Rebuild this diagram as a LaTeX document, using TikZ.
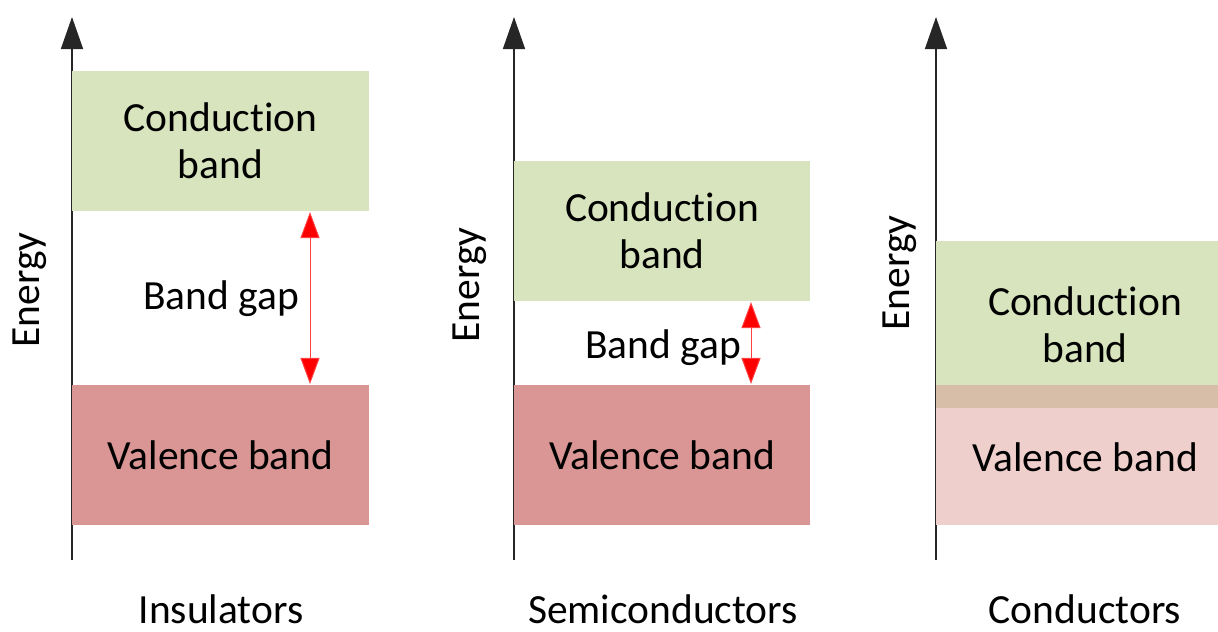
\documentclass[tikz,border=0pt]{standalone}
\usepackage{fontspec}
\setmainfont[Ligatures=NoCommon]{Carlito}
\usetikzlibrary{arrows.meta}
\definecolor{cbgreen}{HTML}{D7E4BD}
\definecolor{vbred}{HTML}{D99694}
\definecolor{vbpink}{HTML}{EFCFCC}
\definecolor{overlap}{HTML}{D7BEA8}
\definecolor{axisgray}{HTML}{262626}
\definecolor{gapred}{HTML}{FF0000}
\tikzset{
  band/.style={draw=none, inner sep=0pt, align=center, font=\fontsize{29.5}{33.4}\selectfont},
  lbl/.style={font=\fontsize{29.5}{34}\selectfont, inner sep=0pt},
  axis/.style={draw=axisgray, line width=1.1pt, -{Triangle[length=0.8cm, width=0.55cm]}},
  gap/.style={draw=gapred!75, line width=0.7pt, {Triangle[length=0.65cm, width=0.475cm, fill=gapred]}-{Triangle[length=0.65cm, width=0.475cm, fill=gapred]}}
}
\begin{document}
\begin{tikzpicture}[x=0.025cm, y=-0.025cm]
\useasboundingbox (0,0) rectangle (1218,632);

% energy axes
\coordinate (a1b) at (72,560);  \coordinate (a1t) at (72,17);
\coordinate (a2b) at (514,560); \coordinate (a2t) at (514,17);
\coordinate (a3b) at (936,560); \coordinate (a3t) at (936,17);
\draw[axis] (a1b) -- (a1t);
\draw[axis] (a2b) -- (a2t);
\draw[axis] (a3b) -- (a3t);

% insulators
\fill[cbgreen] (72,71) rectangle (369,211);
\node[band] (cb1) at (220.5,141) {Conduction\\band};
\fill[vbred] (72,385) rectangle (369,525);
\node[band] (vb1) at (220.5,455) {Valence band};
\coordinate (g1t) at (310,212);
\coordinate (g1b) at (310,384);
\draw[gap] (g1t) -- (g1b);
\node[lbl] (bg1) at (221,299) {Band gap};
\node[lbl, rotate=90] (en1) at (30,290) {Energy};
\node[lbl] (t1) at (221,609) {Insulators};

% semiconductors
\fill[cbgreen] (514,161) rectangle (810,301);
\node[band] (cb2) at (662,231) {Conduction\\band};
\fill[vbred] (514,385) rectangle (810,525);
\node[band] (vb2) at (662,455) {Valence band};
\coordinate (g2t) at (751,302);
\coordinate (g2b) at (751,384);
\draw[gap] (g2t) -- (g2b);
\node[lbl] (bg2) at (663,348) {Band gap};
\node[lbl, rotate=90] (en2) at (470,285) {Energy};
\node[lbl] (t2) at (663,609) {Semiconductors};

% conductors: overlapping bands
\fill[cbgreen] (936,241) rectangle (1218,385);
\fill[overlap] (936,385) rectangle (1218,408);
\fill[vbpink] (936,408) rectangle (1218,525);
\node[band] (cb3) at (1085,325) {Conduction\\band};
\node[band] (vb3) at (1085,457) {Valence band};
\node[lbl, rotate=90] (en3) at (900,273) {Energy};
\node[lbl] (t3) at (1085,609) {Conductors};
\end{tikzpicture}
\end{document}
